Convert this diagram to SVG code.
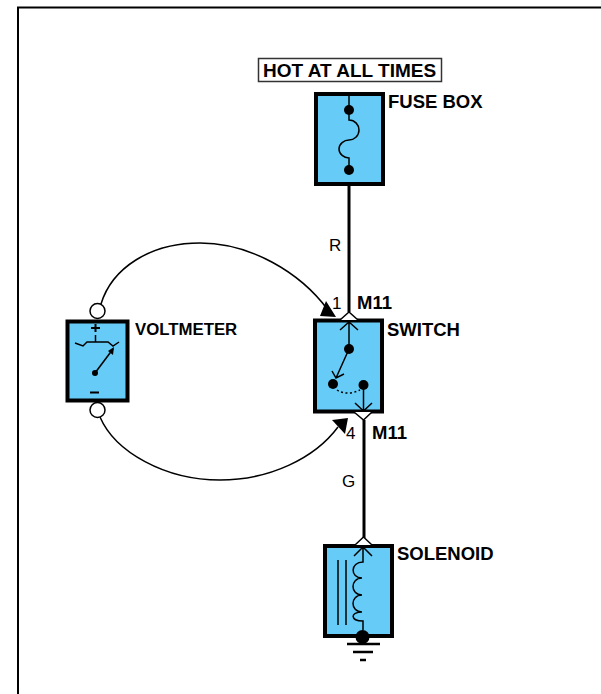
<svg xmlns="http://www.w3.org/2000/svg" width="601" height="694" viewBox="0 0 601 694">
<style>
.box{fill:#66ccf7;stroke:#000;stroke-width:4}
.w{fill:none;stroke:#000;stroke-width:1.5}
.wt{fill:none;stroke:#000;stroke-width:3}
.d{fill:#000}
text{font-family:"Liberation Sans",Arial,sans-serif;fill:#000}
.b{font-weight:bold;font-size:18.500px}
.n{font-size:17px}
</style>
<path d="M18 694V7.500H601" fill="none" stroke="#000" stroke-width="2"/>
<g id="connectors">
<path class="wt" d="M349 184V312"/>
<path class="wt" d="M364 420V538"/>
<path class="w" d="M101 304C112 268 150 243 200 243C250 243 300 272 328 310"/>
<path d="M336 317L320 316L326 301Z" class="d"/>
<path class="w" d="M100 417C115 452 165 480 220 480C270 480 315 458 338 427"/>
<path d="M348 418L332 420L345 434Z" class="d"/>
</g>
<g id="hot-label">
<rect x="258.500" y="58.500" width="183" height="23" fill="#fff" stroke="#333" stroke-width="1.500"/>
<text class="b" style="font-size:19px" x="263" y="77">HOT AT ALL TIMES</text>
</g>
<g id="fuse-box">
<rect class="box" x="316" y="94" width="67" height="90"/>
<path class="w" d="M349 94V120C355 120 359 125 359 130C359 136 354 140 349 140C344 140 339 144 339 149C339 154 344 158 349 158V170"/>
<circle class="d" cx="349" cy="110" r="5"/>
<circle class="d" cx="349" cy="170" r="5"/>
<text class="b" x="388" y="108">FUSE BOX</text>
</g>
<g id="voltmeter">
<rect class="box" x="67.500" y="321.500" width="60" height="79"/>
<circle cx="97.500" cy="311" r="7.500" fill="#fff" stroke="#000" stroke-width="1.500"/>
<circle cx="97.500" cy="410" r="7.500" fill="#fff" stroke="#000" stroke-width="1.500"/>
<path class="w" d="M75 343L83 346L87 342H108L113 346L119 342M95.500 335V342"/>
<path class="w" d="M95 373L113 349"/>
<path class="d" d="M114 347L113 355L108 351Z"/>
<circle class="d" cx="95" cy="373" r="3"/>
<path d="M91 328H100M95.500 324V332M90 392.500H99" fill="none" stroke="#000" stroke-width="2"/>
<text class="b" style="font-size:16.800px" x="135" y="335">VOLTMETER</text>
</g>
<g id="switch">
<rect class="box" x="315" y="320.500" width="67" height="91"/>
<path d="M340 320L349 312L358 320" fill="#fff" stroke="#000" stroke-width="1.500"/>
<path d="M354 412L363.500 420L372 412" fill="#fff" stroke="#000" stroke-width="1.500"/>
<path class="w" d="M349 321V349M340 330L349 322L358 330"/>
<circle class="d" cx="349" cy="349" r="5"/>
<path class="w" d="M349 349L336 378M332 371L336 378L344 374"/>
<circle class="d" cx="333" cy="384" r="5"/>
<circle class="d" cx="363.500" cy="385" r="5"/>
<path d="M337 390C343 394 352 394 360 390" fill="none" stroke="#000" stroke-width="1.500" stroke-dasharray="2 2.500"/>
<path class="w" d="M363.500 385V411M355 403L363.500 411L372 403"/>
<text class="b" x="387" y="336">SWITCH</text>
<text class="n" x="332" y="309">1</text>
<text class="b" x="357" y="309">M11</text>
<text class="n" x="346" y="439">4</text>
<text class="b" x="372" y="439">M11</text>
</g>
<g id="solenoid">
<rect class="box" x="325" y="546" width="67" height="90"/>
<path d="M355 545L363.500 537L372 545" fill="#fff" stroke="#000" stroke-width="1.500"/>
<path class="w" d="M354 556L363 547L372 556M363 547V562C350 562 350 578 362 578C350 578 350 595 362 595C350 595 350 612 362 612C350 612 350 621 363 621V630"/>
<path class="w" d="M338 560V625M346 560V625"/>
<circle class="d" cx="362.500" cy="637" r="7"/>
<path d="M347 644H380M353 652H373M360 660H366" fill="none" stroke="#000" stroke-width="2.500"/>
<text class="b" x="397" y="560">SOLENOID</text>
</g>
<text class="n" x="329" y="251">R</text>
<text class="n" x="342" y="487">G</text>
</svg>
